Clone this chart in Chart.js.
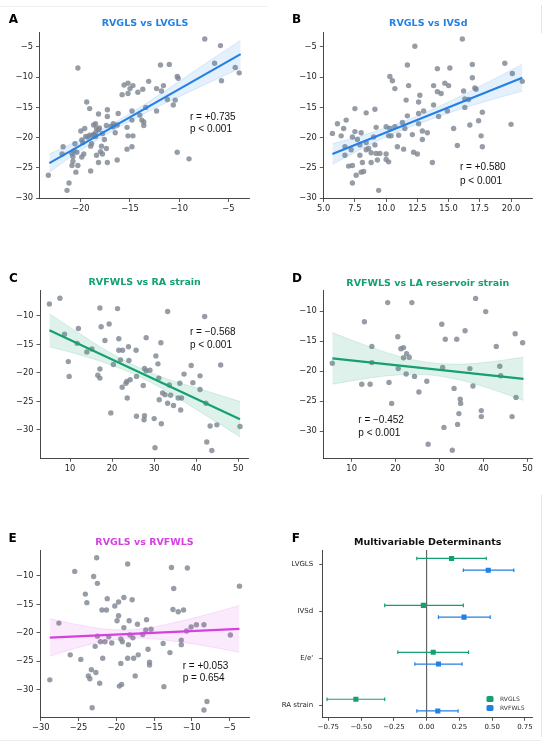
<!DOCTYPE html>
<html>
<head>
<meta charset="utf-8">
<script src="https://cdn.jsdelivr.net/npm/chart.js@4.4.1/dist/chart.umd.min.js"></script>
<style>
html,body{margin:0;padding:0;background:#fff;}
#wrap{position:relative;width:550px;height:748px;overflow:hidden;background:#fff;}
#wrap canvas{position:absolute;left:0;top:0;z-index:1;}
.txt{position:absolute;white-space:nowrap;line-height:1;z-index:3;}
.ttl{transform:translate(-50%,-50%);font-family:"DejaVu Sans",sans-serif;font-weight:bold;font-size:9.5px;}
.let{transform:translate(-50%,-50%);font-family:"DejaVu Sans",sans-serif;font-weight:bold;font-size:12px;color:#000;}
.ann{transform:translateY(-50%);font-family:"Liberation Sans",Arial,sans-serif;font-size:10px;color:#111;}
.leg{transform:translateY(-50%);font-family:"DejaVu Sans",sans-serif;font-size:6px;color:#333;}
.sw{position:absolute;width:7px;height:6px;border-radius:1.5px;transform:translate(-50%,-50%);z-index:3;}
.rule{position:absolute;background:#e4e4e4;z-index:0;}
</style>
</head>
<body>
<div id="wrap">
  <div class="rule" style="left:0;top:5.5px;width:268px;height:1px;background:#f0f0f0"></div>
  <div class="rule" style="left:541px;top:5px;width:1px;height:28px"></div>
  <div class="rule" style="left:541px;top:495px;width:1px;height:242px"></div>
  <div class="rule" style="left:0;top:740px;width:541px;height:1px;background:#ececec"></div>

  <div class="txt let" style="left:13.3px;top:19px">A</div>
  <div class="txt ttl" style="left:145px;top:22.5px;color:#2580e3">RVGLS vs LVGLS</div>
  <div class="txt ann" style="left:190px;top:117.3px">r = +0.735</div>
  <div class="txt ann" style="left:190px;top:128.8px">p &lt; 0.001</div>

  <div class="txt let" style="left:296.7px;top:18.7px">B</div>
  <div class="txt ttl" style="left:428.3px;top:22.5px;color:#2580e3">RVGLS vs IVSd</div>
  <div class="txt ann" style="left:460px;top:166.7px">r = +0.580</div>
  <div class="txt ann" style="left:460px;top:180.5px">p &lt; 0.001</div>

  <div class="txt let" style="left:13.3px;top:278.3px">C</div>
  <div class="txt ttl" style="left:144.7px;top:282.2px;color:#14a070">RVFWLS vs RA strain</div>
  <div class="txt ann" style="left:190px;top:331.7px">r = −0.568</div>
  <div class="txt ann" style="left:190px;top:345px">p &lt; 0.001</div>

  <div class="txt let" style="left:297px;top:278.3px">D</div>
  <div class="txt ttl" style="left:427.8px;top:282.5px;color:#14a070">RVFWLS vs LA reservoir strain</div>
  <div class="txt ann" style="left:358.3px;top:420px">r = −0.452</div>
  <div class="txt ann" style="left:358.3px;top:432.7px">p &lt; 0.001</div>

  <div class="txt let" style="left:12.5px;top:537.8px">E</div>
  <div class="txt ttl" style="left:144.5px;top:541.5px;color:#d540e2">RVGLS vs RVFWLS</div>
  <div class="txt ann" style="left:182.7px;top:665.7px">r = +0.053</div>
  <div class="txt ann" style="left:182.7px;top:677.7px">p = 0.654</div>

  <div class="txt let" style="left:295.8px;top:537.8px">F</div>
  <div class="txt ttl" style="left:427.7px;top:541.8px;color:#111">Multivariable Determinants</div>
  <div class="sw" style="left:490px;top:699px;background:#14a070"></div>
  <div class="txt leg" style="left:500px;top:699px">RVGLS</div>
  <div class="sw" style="left:490px;top:707.7px;background:#2580e3"></div>
  <div class="txt leg" style="left:500px;top:707.7px">RVFWLS</div>
</div>
<script>
// ---------- Panel A: RVGLS vs LVGLS ----------
const A_x = [-7.4,-5.8,-6.4,-4.3,-3.9,-5.7,-11.9,-11.0,-10.2,-10.1,
  -20.3,-13.1,-11.6,-12.3,-11.8,-11.2,-10.4,-10.6,-15.2,-14.7,
  -15.6,-15.0,-15.2,-15.8,-13.7,-14.2,-13.4,-12.3,-14.0,-13.8,
  -13.6,-13.6,-14.8,-14.8,-15.3,-16.2,-17.3,-17.3,-17.4,-16.7,
  -16.9,-16.5,-15.2,-14.7,-14.8,-15.3,-16.3,-17.3,-18.0,-17.9,
  -17.4,-17.6,-17.8,-18.2,-18.2,-18.5,-18.4,-18.1,-19.4,-19.1,
  -19.6,-20.0,-19.1,-19.5,-18.7,-18.8,-19.0,-18.9,-19.9,-20.6,
  -20.7,-20.9,-20.8,-20.8,-20.9,-20.3,-20.5,-21.8,-21.9,-23.3,
  -21.2,-21.4,-19.0,-19.7,-19.9,-18.4,-17.8,-18.2,-9.0,-10.2,
  -18.7,-19.3,-18.5,-16.3,-16.7,-20.4,-19.8,-18.5];
const A_y = [-3.7,-4.8,-7.7,-8.4,-9.3,-10.6,-8.0,-7.9,-9.9,-10.2,
  -8.5,-10.7,-11.4,-11.9,-12.3,-13.7,-13.8,-14.6,-11.0,-11.4,
  -11.3,-11.9,-12.7,-12.9,-12.0,-12.5,-15.0,-15.6,-16.3,-17.1,
  -17.4,-18.0,-15.6,-17.1,-18.3,-16.0,-15.4,-16.5,-18.0,-17.7,
  -18.1,-19.2,-19.7,-19.7,-21.5,-21.9,-23.7,-24.1,-22.3,-21.4,
  -21.8,-20.3,-19.3,-18.7,-16.1,-17.7,-18.5,-18.4,-14.1,-15.2,
  -18.5,-18.9,-19.6,-19.8,-19.5,-19.6,-21.4,-21.0,-20.4,-21.0,
  -22.2,-22.6,-23.1,-23.9,-24.6,-24.6,-25.7,-21.5,-22.7,-26.2,
  -27.5,-28.7,-25.5,-22.7,-23.2,-22.9,-22.7,-24.1,-23.5,-22.4,
  -17.9,-19.9,-19.8,-17.9,-18.2,-22.4,-20.8,-19.2];
const A_lineX = [-23.2, -3.75];
const A_lineY = [-24.2, -6.2];
const A_bandX = [-23.2, -20, -17, -14, -11, -8, -3.75];
const A_bandUp = [-22.7, -20.3, -17.9, -15.0, -11.8, -8.5, -3.9];
const A_bandLo = [-25.7, -22.1, -19.1, -16.4, -14.0, -11.7, -8.5];
const A_xTicks = [-20, -15, -10, -5];
const A_yTicks = [-30, -25, -20, -15, -10, -5];

// ---------- Panel B: RVGLS vs IVSd ----------
const B_x = [5.7,6.1,6.4,6.6,6.8,6.7,6.7,7.0,7.3,7.2,
  7.3,7.3,7.5,7.5,7.7,7.6,7.9,8.0,8.1,8.0,
  8.2,8.4,8.4,8.4,8.6,8.8,9.0,9.1,9.1,9.2,
  9.2,9.3,9.4,9.5,10.0,10.0,10.0,10.2,10.2,10.3,
  10.4,10.5,10.3,10.7,10.7,10.9,11.0,11.3,11.4,11.5,
  11.6,11.7,11.8,11.7,12.1,12.2,12.3,12.5,12.6,12.6,
  12.7,12.6,12.9,12.9,13.0,13.3,13.7,13.8,13.8,14.1,
  14.1,14.2,14.4,14.7,14.9,15.0,15.1,15.4,15.7,16.1,
  16.2,16.3,16.3,16.6,16.9,16.9,17.1,17.2,16.7,17.4,
  17.6,17.7,17.7,19.5,20.1,20.0,20.9,7.9,8.8];
const B_y = [-19.3,-17.7,-19.7,-18.5,-17.1,-21.5,-22.9,-24.7,-24.6,-22.0,
  -19.9,-27.5,-15.2,-19.0,-20.3,-26.2,-21.2,-19.2,-24.1,-25.7,
  -25.6,-20.8,-22.0,-15.9,-21.8,-22.5,-19.9,-15.3,-21.2,-18.3,
  -22.6,-23.7,-28.7,-22.6,-22.7,-18.2,-23.6,-19.7,-24.0,-9.9,
  -19.7,-10.6,-18.5,-11.9,-18.2,-21.5,-19.6,-17.5,-21.9,-18.5,
  -13.8,-8.0,-11.4,-16.4,-19.5,-22.4,-4.9,-22.7,-16.0,-14.1,
  -13.0,-17.7,-18.9,-20.3,-15.6,-19.2,-24.1,-11.4,-14.6,-8.6,
  -12.4,-16.5,-12.7,-11.0,-15.6,-11.4,-8.5,-18.5,-21.3,-3.7,
  -12.3,-13.6,-15.0,-13.7,-10.1,-7.9,-11.8,-12.0,-17.9,-17.2,
  -19.7,-21.5,-15.8,-7.7,-9.4,-17.8,-10.7,-22.9,-24.1];
const B_lineX = [5.7, 20.9];
const B_lineY = [-22.7, -10.1];
const B_bandX = [5.7, 8, 10.5, 13, 15.5, 18, 20.9];
const B_bandUp = [-21.0, -19.7, -18.0, -16.0, -13.6, -11.0, -7.9];
const B_bandLo = [-24.4, -21.9, -19.4, -17.4, -15.6, -14.0, -12.3];
const B_xTicks = [5, 7.5, 10, 12.5, 15, 17.5, 20];
const B_yTicks = [-30, -25, -20, -15, -10, -5];

// ---------- Panel C: RVFWLS vs RA strain ----------
const C_x = [5.1,7.6,8.7,9.6,9.8,12.0,11.7,14.0,15.2,16.6,
  17.1,17.4,17.1,17.1,18.3,19.3,19.7,20.3,21.3,21.6,
  21.6,22.0,22.5,22.4,23.3,23.5,23.6,23.9,24.0,24.3,
  25.7,25.8,25.8,27.4,27.7,28.1,28.1,27.7,27.6,29.0,
  30.0,30.2,30.4,30.9,31.1,31.2,31.6,31.7,32.0,32.6,
  33.2,33.2,33.6,33.9,34.6,35.7,36.1,36.3,37.1,38.8,
  39.2,40.9,40.9,42.0,42.3,42.5,43.3,43.7,44.9,45.8,50.4,36.5];
const C_y = [-7.9,-6.9,-13.2,-18.0,-20.6,-12.2,-14.8,-16.3,-15.8,-20.4,
  -8.6,-11.9,-19.3,-20.9,-14.3,-11.4,-27.0,-18.5,-8.7,-14.0,
  -16.0,-17.7,-16.0,-22.5,-21.8,-21.5,-24.4,-15.4,-17.8,-21.2,
  -16.0,-20.6,-27.6,-22.2,-19.2,-13.8,-19.6,-27.5,-28.2,-19.5,
  -28.0,-33.1,-17.0,-18.4,-20.9,-24.7,-14.7,-28.9,-23.5,-23.8,
  -9.2,-25.3,-22.1,-23.9,-25.7,-24.4,-21.8,-26.5,-20.2,-18.7,
  -21.7,-20.5,-22.9,-10.1,-25.3,-32.1,-29.3,-33.6,-29.1,-18.6,-29.4,-24.4];
const C_lineX = [5.1, 50.4];
const C_lineY = [-12.5, -28.1];
const C_bandX = [5.1, 12, 19, 26, 33, 40, 50.4];
const C_bandUp = [-9.6, -12.95, -16.2, -18.9, -21.0, -22.6, -25.0];
const C_bandLo = [-15.4, -16.75, -18.4, -20.5, -23.2, -26.4, -31.2];
const C_xTicks = [10, 20, 30, 40, 50];
const C_yTicks = [-30, -25, -20, -15, -10];

// ---------- Panel D: RVFWLS vs LA reservoir strain ----------
const D_x = [5.6,12.3,12.9,14.2,14.6,14.6,18.2,18.5,19.1,20.5,
  20.6,21.2,21.8,21.8,22.4,22.5,23.1,23.7,24.3,25.3,
  27.1,27.4,30.5,30.7,31.0,31.3,33.3,33.9,34.1,34.4,
  34.7,34.8,32.9,35.8,36.9,37.6,38.2,39.5,39.5,40.5,
  42.9,43.7,43.9,46.5,47.2,47.4,48.9];
const D_y = [-18.7,-22.2,-11.8,-22.2,-15.9,-18.6,-8.6,-21.9,-25.4,-14.3,
  -19.6,-16.3,-16.1,-17.8,-20.5,-17.1,-17.7,-8.6,-20.9,-23.5,
  -21.7,-32.2,-12.2,-19.4,-29.4,-14.7,-22.9,-14.7,-28.9,-27.1,
  -24.7,-25.4,-33.2,-13.3,-19.6,-22.5,-7.9,-26.6,-27.6,-10.1,
  -15.9,-19.2,-20.8,-27.6,-13.8,-24.4,-15.3];
const D_lineX = [5.6, 49.1];
const D_lineY = [-17.9, -21.3];
const D_bandX = [5.6, 12, 19, 26, 33, 40, 49.1];
const D_bandUp = [-13.6, -15.4, -17.15, -18.4, -18.85, -18.6, -17.7];
const D_bandLo = [-22.2, -21.4, -20.75, -20.6, -21.25, -22.6, -24.9];
const D_xTicks = [10, 20, 30, 40, 50];
const D_yTicks = [-30, -25, -20, -15, -10];

// ---------- Panel E: RVGLS vs RVFWLS ----------
const E_x = [-28.8,-27.6,-26.1,-25.5,-24.7,-24.1,-23.9,-23.7,-23.5,-23.3,
  -23.2,-23.0,-22.8,-22.7,-22.6,-22.5,-22.5,-22.2,-21.9,-21.8,
  -21.5,-21.3,-21.2,-21.0,-20.6,-20.2,-19.9,-19.7,-19.7,-19.6,
  -19.4,-19.4,-19.3,-19.2,-19.0,-19.0,-18.5,-18.5,-18.4,-18.3,
  -18.2,-17.9,-17.8,-17.7,-17.5,-17.2,-17.1,-16.5,-16.1,-16.0,
  -15.8,-15.6,-15.6,-15.4,-13.8,-13.7,-12.9,-12.7,-12.5,-12.4,
  -11.8,-11.4,-11.4,-11.1,-10.6,-10.7,-10.1,-9.4,-8.4,-8.4,
  -8.0,-4.9,-3.7,-22.1];
const E_y = [-28.3,-18.3,-23.9,-9.2,-24.7,-13.2,-14.7,-27.6,-28.1,-26.5,
  -33.2,-10.1,-22.4,-27.0,-6.8,-11.3,-20.6,-28.9,-16.0,-24.5,
  -21.6,-16.0,-14.0,-20.7,-21.8,-15.3,-17.9,-14.6,-17.0,-29.4,
  -21.1,-25.4,-29.1,-21.6,-13.8,-19.1,-7.9,-24.5,-22.1,-17.9,
  -20.4,-14.2,-20.9,-24.5,-27.6,-18.5,-23.9,-20.3,-19.5,-17.7,
  -22.9,-25.2,-25.7,-19.4,-21.9,-29.5,-23.5,-8.5,-15.9,-12.2,
  -16.3,-21.3,-22.1,-16.0,-8.6,-19.7,-19.0,-18.6,-18.6,-33.6,
  -32.1,-20.4,-11.8,-21.6];
const E_lineX = [-28.8, -3.7];
const E_lineY = [-20.85, -19.33];
const E_bandX = [-28.8, -25, -21, -17, -13, -9, -3.7];
const E_bandUp = [-17.55, -18.6, -19.4, -19.35, -18.4, -17.15, -15.2];
const E_bandLo = [-24.15, -22.6, -21.4, -20.95, -21.4, -22.15, -23.45];
const E_xTicks = [-30, -25, -20, -15, -10, -5];
const E_yTicks = [-30, -25, -20, -15, -10];

// ---------- Panel F: Multivariable Determinants ----------
const F_cats = ['LVGLS', 'IVSd', "E/e'", 'RA strain'];
const F_rvgls = [0.19, -0.025, 0.05, -0.54];
const F_rvglsLo = [-0.075, -0.32, -0.22, -0.76];
const F_rvglsHi = [0.455, 0.28, 0.32, -0.32];
const F_rvfwls = [0.47, 0.285, 0.09, 0.085];
const F_rvfwlsLo = [0.28, 0.09, -0.09, -0.075];
const F_rvfwlsHi = [0.665, 0.485, 0.27, 0.24];
const F_xTicks = [-0.75, -0.5, -0.25, 0, 0.25, 0.5, 0.75];

// ---------- styling ----------
const BLUE = '#2580e3', GREEN = '#14a070', MAGENTA = '#d540e2';
const SCAT = 'rgba(128,135,147,0.82)';
const TICK_FONT = {family: '"DejaVu Sans", sans-serif', size: 8.3};
const F_FONT = {family: '"DejaVu Sans", sans-serif', size: 7};
const AXW = 30, AXH = 20;

function fmt(v, d) {
  const s = Math.abs(v).toFixed(d);
  return (v < -1e-9 ? '\u2212' : '') + s;
}
function addCanvas() {
  const c = document.createElement('canvas');
  c.width = 550; c.height = 748;
  c.style.width = '550px'; c.style.height = '748px';
  document.getElementById('wrap').appendChild(c);
  return c;
}
function axis(min, max, ticks, dec, extra, font, pad) {
  return Object.assign({
    type: 'linear', min: min, max: max,
    afterBuildTicks: s => { s.ticks = ticks.map(v => ({value: v})); },
    ticks: {font: font || TICK_FONT, color: '#262626', padding: pad || 2, autoSkip: false, maxRotation: 0,
            callback: v => fmt(v, dec)},
    grid: {display: true, drawOnChartArea: false, drawTicks: true, tickLength: 3.5, color: '#333', lineWidth: 0.8},
    border: {display: true, color: '#333', width: 0.9}
  }, extra || {});
}
function pts(xs, ys) { return xs.map((x, i) => ({x: x, y: ys[i]})); }

function scatterPanel(p) {
  const [l, t, r, b] = p.area;
  new Chart(addCanvas(), {
    type: 'scatter',
    data: {datasets: [
      {data: pts(p.lineX, p.lineY), showLine: true, borderColor: p.color, borderWidth: 2.2, pointRadius: 0, fill: false},
      {data: pts(p.bandX, p.bandUp), showLine: true, borderColor: p.edge, borderWidth: 0.6, pointRadius: 0, tension: 0.4, fill: false},
      {data: pts(p.bandX, p.bandLo), showLine: true, borderColor: p.edge, borderWidth: 0.6, pointRadius: 0, tension: 0.4, fill: '-1', backgroundColor: p.fill},
      {data: pts(p.xs, p.ys), pointRadius: 2.7, backgroundColor: SCAT, pointBackgroundColor: SCAT, pointBorderWidth: 0, borderWidth: 0}
    ]},
    options: {
      responsive: false, animation: false, events: [],
      layout: {padding: {left: l - AXW, top: t, right: 550 - r, bottom: 748 - b - AXH}},
      plugins: {legend: {display: false}, tooltip: {enabled: false}},
      scales: {
        x: axis(p.xr[0], p.xr[1], p.xt, p.xd, {afterFit: s => { s.height = AXH; }}, TICK_FONT, 1.8),
        y: axis(p.yr[0], p.yr[1], p.yt, 0, {afterFit: s => { s.width = AXW; }}, TICK_FONT, 3)
      }
    }
  });
}

const blueEdge = 'rgba(37,128,227,0.25)', blueFill = 'rgba(37,128,227,0.12)';
const greenEdge = 'rgba(20,160,112,0.25)', greenFill = 'rgba(20,160,112,0.14)';
const magEdge = 'rgba(213,64,226,0.22)', magFill = 'rgba(213,64,226,0.11)';

scatterPanel({area: [39.5, 32, 249.5, 198.5], xr: [-24.2, -2.85], yr: [-30.05, -2.55], xt: A_xTicks, yt: A_yTicks, xd: 0,
  xs: A_x, ys: A_y, lineX: A_lineX, lineY: A_lineY, bandX: A_bandX, bandUp: A_bandUp, bandLo: A_bandLo,
  color: BLUE, edge: blueEdge, fill: blueFill});
scatterPanel({area: [323.3, 32, 532.3, 198.5], xr: [4.97, 21.7], yr: [-30.05, -2.55], xt: B_xTicks, yt: B_yTicks, xd: 1,
  xs: B_x, ys: B_y, lineX: B_lineX, lineY: B_lineY, bandX: B_bandX, bandUp: B_bandUp, bandLo: B_bandLo,
  color: BLUE, edge: blueEdge, fill: blueFill});
scatterPanel({area: [40, 290, 248.3, 458.3], xr: [2.87, 52.37], yr: [-34.97, -5.44], xt: C_xTicks, yt: C_yTicks, xd: 0,
  xs: C_x, ys: C_y, lineX: C_lineX, lineY: C_lineY, bandX: C_bandX, bandUp: C_bandUp, bandLo: C_bandLo,
  color: GREEN, edge: greenEdge, fill: greenFill});
scatterPanel({area: [323.3, 290, 532.3, 458.3], xr: [3.55, 51.1], yr: [-34.55, -6.5], xt: D_xTicks, yt: D_yTicks, xd: 0,
  xs: D_x, ys: D_y, lineX: D_lineX, lineY: D_lineY, bandX: D_bandX, bandUp: D_bandUp, bandLo: D_bandLo,
  color: GREEN, edge: greenEdge, fill: greenFill});
scatterPanel({area: [40, 550, 249.5, 717.5], xr: [-30.1, -2.37], yr: [-34.93, -5.43], xt: E_xTicks, yt: E_yTicks, xd: 0,
  xs: E_x, ys: E_y, lineX: E_lineX, lineY: E_lineY, bandX: E_bandX, bandUp: E_bandUp, bandLo: E_bandLo,
  color: MAGENTA, edge: magEdge, fill: magFill});

// Panel F
const F_OFF = 0.125;
const errPlugin = {
  id: 'errbars',
  beforeDatasetsDraw(chart) {
    const {ctx, chartArea} = chart;
    const xs = chart.scales.x, ys = chart.scales.y;
    ctx.save();
    const x0 = xs.getPixelForValue(0);
    ctx.strokeStyle = '#4a4a4a'; ctx.lineWidth = 1;
    ctx.beginPath(); ctx.moveTo(x0, chartArea.top); ctx.lineTo(x0, chartArea.bottom); ctx.stroke();
    const series = [
      {lo: F_rvglsLo, hi: F_rvglsHi, off: -F_OFF, color: GREEN},
      {lo: F_rvfwlsLo, hi: F_rvfwlsHi, off: F_OFF, color: BLUE}
    ];
    series.forEach(s => {
      ctx.strokeStyle = s.color; ctx.lineWidth = 1.2;
      s.lo.forEach((lo, i) => {
        const yy = ys.getPixelForValue(i + s.off);
        const a = xs.getPixelForValue(lo), bb = xs.getPixelForValue(s.hi[i]);
        ctx.beginPath();
        ctx.moveTo(a, yy); ctx.lineTo(bb, yy);
        ctx.moveTo(a, yy - 1.8); ctx.lineTo(a, yy + 1.8);
        ctx.moveTo(bb, yy - 1.8); ctx.lineTo(bb, yy + 1.8);
        ctx.stroke();
      });
    });
    ctx.restore();
  }
};
(function () {
  const l = 322.7, t = 550, r = 532.3, b = 717.3, yw = 60;
  new Chart(addCanvas(), {
    type: 'scatter',
    data: {datasets: [
      {data: F_rvgls.map((x, i) => ({x: x, y: i - F_OFF})), pointStyle: 'rect', pointRadius: 3.6, backgroundColor: GREEN, pointBackgroundColor: GREEN, borderWidth: 0, pointBorderWidth: 0},
      {data: F_rvfwls.map((x, i) => ({x: x, y: i + F_OFF})), pointStyle: 'rect', pointRadius: 3.6, backgroundColor: BLUE, pointBackgroundColor: BLUE, borderWidth: 0, pointBorderWidth: 0}
    ]},
    options: {
      responsive: false, animation: false, events: [],
      layout: {padding: {left: l - yw, top: t, right: 550 - r, bottom: 748 - b - AXH}},
      plugins: {legend: {display: false}, tooltip: {enabled: false}},
      scales: {
        x: axis(-0.793, 0.806, F_xTicks, 2, {afterFit: s => { s.height = AXH; }}, F_FONT, 2.5),
        y: {
          type: 'linear', reverse: true, min: -0.305, max: 3.26,
          afterBuildTicks: s => { s.ticks = F_cats.map((c, i) => ({value: i})); },
          afterFit: s => { s.width = yw; },
          ticks: {font: F_FONT, color: '#262626', padding: 6, autoSkip: false, callback: (v, i) => F_cats[i]},
          grid: {display: true, drawOnChartArea: false, drawTicks: true, tickLength: 3.5, color: '#333', lineWidth: 0.8},
          border: {display: true, color: '#333', width: 0.9}
        }
      }
    },
    plugins: [errPlugin]
  });
})();
</script>
</body>
</html>
